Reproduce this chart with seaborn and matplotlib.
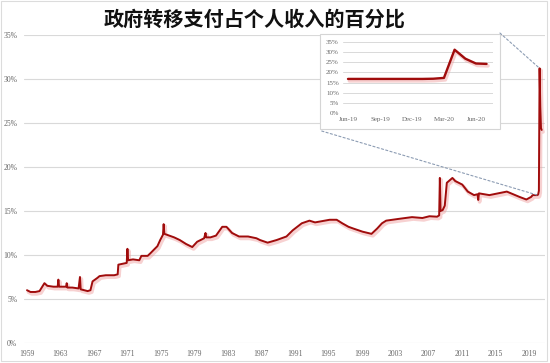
import matplotlib
matplotlib.use("Agg")
import pandas as pd
import seaborn as sns
import matplotlib.pyplot as plt
import matplotlib.dates as mdates
import matplotlib.patheffects as pe
from matplotlib.patches import Rectangle, ConnectionPatch
from matplotlib.ticker import FixedLocator, FuncFormatter

# readings taken off the reference chart (month, % of personal income)
months = [
    "1959-01", "1959-06", "1960-01", "1960-07", "1961-02", "1961-06", "1962-03", "1962-09",
    "1962-10", "1962-11", "1963-04", "1963-09", "1963-10", "1963-11", "1964-06", "1965-03",
    "1965-05", "1965-06", "1965-11", "1966-04", "1966-08", "1966-11", "1967-06", "1967-09",
    "1968-06", "1969-06", "1969-11", "1969-12", "1970-06", "1970-12", "1971-01", "1971-02",
    "1971-09", "1972-06", "1972-09", "1973-06", "1973-10", "1974-03", "1974-08", "1974-12",
    "1975-04", "1975-05", "1975-06", "1976-01", "1976-08", "1977-04", "1978-01", "1978-10",
    "1979-05", "1980-03", "1980-05", "1980-06", "1980-12", "1981-08", "1982-05", "1982-11",
    "1983-07", "1984-05", "1985-06", "1986-06", "1986-11", "1987-10", "1988-11", "1990-01",
    "1990-10", "1991-11", "1992-10", "1993-06", "1994-01", "1995-03", "1996-01", "1996-09",
    "1997-06", "1998-01", "1999-02", "2000-03", "2000-11", "2001-06", "2001-12", "2003-06",
    "2005-01", "2006-04", "2007-02", "2008-01", "2008-04", "2008-05", "2008-06", "2008-09",
    "2008-12", "2009-03", "2009-11", "2010-03", "2011-01", "2011-09", "2012-06", "2012-11",
    "2012-12", "2013-01", "2014-04", "2016-05", "2017-11", "2018-09", "2019-04", "2019-06",
    "2019-07", "2019-08", "2019-09", "2019-10", "2019-11", "2019-12", "2020-01", "2020-02",
    "2020-03", "2020-04", "2020-05", "2020-06", "2020-07",
]
share = [
    6.0, 5.8, 5.8, 5.9, 6.8, 6.5, 6.4, 6.4,
    7.2, 6.4, 6.4, 6.4, 6.8, 6.3, 6.3, 6.2,
    7.5, 6.1, 6.0, 5.9, 6.0, 7.0, 7.4, 7.6,
    7.7, 7.7, 7.8, 8.9, 9.0, 9.1, 10.7, 9.4,
    9.5, 9.4, 9.9, 9.9, 10.2, 10.6, 11.0, 11.7,
    12.3, 13.5, 12.4, 12.2, 12.0, 11.7, 11.25, 10.9,
    11.5, 11.9, 12.5, 12.0, 12.0, 12.2, 13.2, 13.2,
    12.5, 12.1, 12.1, 11.9, 11.7, 11.4, 11.7, 12.1,
    12.8, 13.6, 13.9, 13.7, 13.8, 14.0, 14.0, 13.6,
    13.2, 13.0, 12.65, 12.4, 13.0, 13.6, 13.9, 14.1,
    14.3, 14.2, 14.4, 14.35, 14.5, 18.75, 15.0, 15.1,
    15.6, 18.2, 18.75, 18.4, 18.0, 17.2, 16.8, 16.9,
    16.25, 17.0, 16.8, 17.2, 16.6, 16.3, 16.6, 16.8,
    16.8, 16.8, 16.8, 16.8, 16.8, 16.8, 16.8, 16.9,
    17.3, 31.2, 26.8, 24.4, 24.2,
]
tick_years = list(range(1959, 2020, 4))
inset_start = "2019-06"
inset_ticks = ["Jun-19", "Sep-19", "Dec-19", "Mar-20", "Jun-20"]

df = pd.DataFrame({"date": pd.to_datetime(months), "share": share})
ins = df[df["date"] >= inset_start].reset_index(drop=True)
ins["pos"] = ins.index

sns.set_theme(style="white")
plt.rcParams["font.family"] = ["Liberation Serif", "DejaVu Serif"]

red = "#a00c0c"
grid_c = "#d9d9d9"
shadow = [pe.SimpleLineShadow(offset=(1.0, -1.4), shadow_color="#ee9a9a", alpha=0.45, linewidth=2.6),
          pe.Normal()]
pct = FuncFormatter(lambda v, p: f"{v:.0f}%")

fig = plt.figure(figsize=(5.5, 3.63), dpi=100)
fig.patches.append(Rectangle((0.002, 0.005), 0.992, 0.993, transform=fig.transFigure,
                             fill=False, edgecolor="#dcdcdc", lw=0.8))

ax = fig.add_axes([0.044, 0.055, 0.946, 0.849])
sns.lineplot(data=df, x="date", y="share", ax=ax, color=red, lw=1.4, path_effects=shadow)
ax.set_ylim(0, 35)
ax.set_xlim(pd.Timestamp("1958-09-01"), pd.Timestamp("2020-11-01"))
ax.set_yticks(range(0, 36, 5))
ax.yaxis.set_major_formatter(pct)
ax.xaxis.set_major_locator(FixedLocator(mdates.date2num(pd.to_datetime([f"{y}-01-01" for y in tick_years]))))
ax.xaxis.set_major_formatter(mdates.DateFormatter("%Y"))
ax.grid(axis="y", color=grid_c, lw=0.8)
ax.grid(axis="x", visible=False)
sns.despine(ax=ax, left=True, bottom=True)
ax.tick_params(axis="both", length=0, labelsize=5.5, colors="#666666")
ax.tick_params(axis="y", pad=5)
ax.tick_params(axis="x", pad=5)
ax.set_xlabel("")
ax.set_ylabel("")

fig.text(0.462, 0.948, "政府转移支付占个人收入的百分比", ha="center", va="center",
         fontsize=14.5, fontweight="bold", color="#111111", family=["Noto Sans CJK SC"])

# inset box
fig.patches.append(Rectangle((0.582, 0.645), 0.327, 0.262, transform=fig.transFigure,
                             facecolor="white", edgecolor="#d5d5d5", lw=0.8, zorder=1.5))
iax = fig.add_axes([0.6236, 0.6887, 0.2727, 0.1956], zorder=2)
iax.patch.set_alpha(0)
sns.lineplot(data=ins, x="pos", y="share", ax=iax, color=red, lw=1.7, path_effects=shadow)
iax.set_ylim(0, 35)
iax.set_xlim(-0.47, 13.6)
iax.set_yticks(range(0, 36, 5))
iax.yaxis.set_major_formatter(pct)
iax.set_xticks(range(0, len(ins), 3))
iax.set_xticklabels(inset_ticks)
iax.grid(axis="y", color=grid_c, lw=0.7)
iax.grid(axis="x", visible=False)
sns.despine(ax=iax, left=True, bottom=True)
iax.tick_params(axis="both", length=0, labelsize=5, colors="#666666", pad=3)
iax.set_xlabel("")
iax.set_ylabel("")

# dashed zoom connectors
peak = df.loc[df["share"].idxmax()]
base = df[df["date"] == pd.Timestamp("2020-01-01")].iloc[0]
for xy_fig, row in [((0.909, 0.909), peak), ((0.585, 0.639), base)]:
    con = ConnectionPatch(xyA=xy_fig, coordsA="figure fraction",
                          xyB=(mdates.date2num(row["date"]), row["share"]), coordsB=ax.transData,
                          color="#8c9cb3", lw=0.8, ls=(0, (2, 2)), zorder=1.6)
    fig.add_artist(con)

fig.savefig("out.png", dpi=100)
